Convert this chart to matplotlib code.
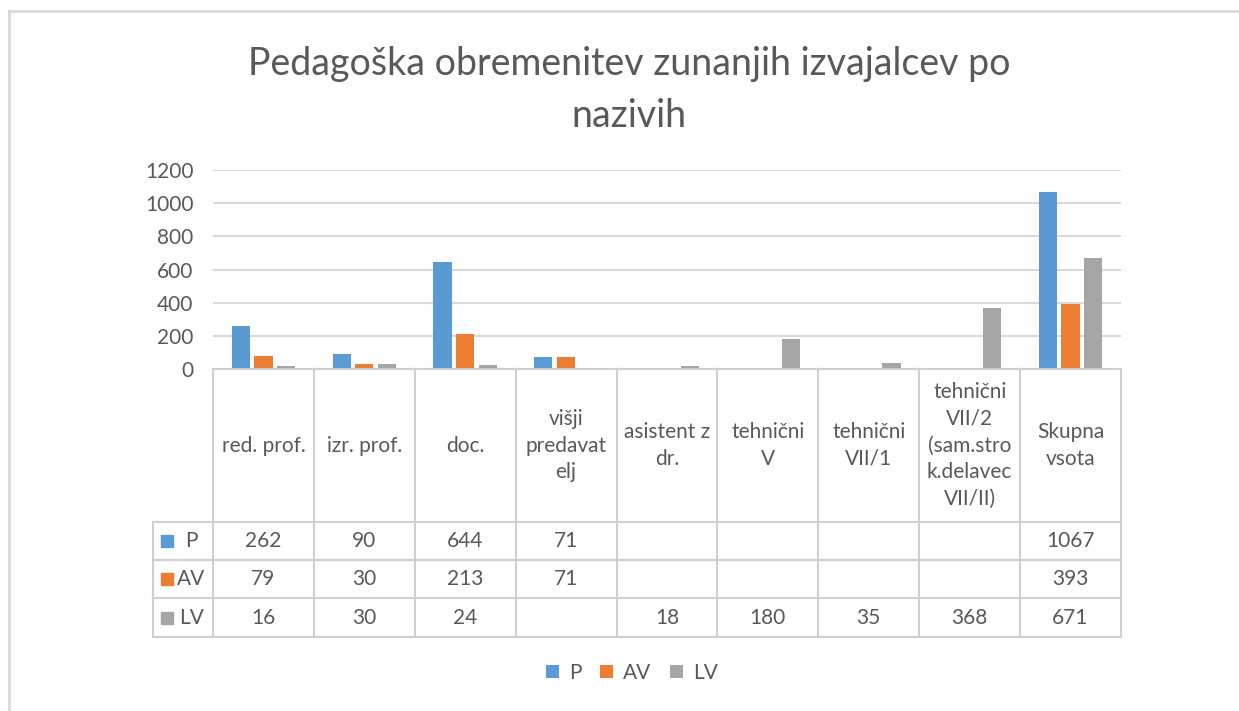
import matplotlib
matplotlib.use("Agg")
import matplotlib.pyplot as plt
from matplotlib.patches import Patch
import numpy as np

plt.rcParams['font.family'] = ['Lato', 'DejaVu Sans']

title = "Pedagoška obremenitev zunanjih izvajalcev po\nnazivih"
categories = ["red. prof.", "izr. prof.", "doc.", "višji\npredavat\nelj", "asistent z\ndr.",
              "tehnični\nV", "tehnični\nVII/1", "tehnični\nVII/2\n(sam.stro\nk.delavec\nVII/II)",
              "Skupna\nvsota"]
series_names = ["P", "AV", "LV"]
P = [262, 90, 644, 71, None, None, None, None, 1067]
AV = [79, 30, 213, 71, None, None, None, None, 393]
LV = [16, 30, 24, None, 18, 180, 35, 368, 671]
yticks = [0, 200, 400, 600, 800, 1000, 1200]

colors = ["#5B9BD5", "#ED7D31", "#A5A5A5"]
text_c = "#595959"
grid_c = "#D9D9D9"
fs = 15

W, H = 1239, 711
fig = plt.figure(figsize=(W / 100, H / 100), dpi=100)

# chart border (top and left visible)
fig.add_artist(plt.Line2D([9 / W, 9 / W], [0, 1 - 11 / H], color=grid_c, lw=2, transform=fig.transFigure))
fig.add_artist(plt.Line2D([9 / W, 1], [1 - 11 / H, 1 - 11 / H], color=grid_c, lw=2, transform=fig.transFigure))

fig.text(629 / W, 1 - 90 / H, title, ha='center', va='center', fontsize=27, color=text_c, linespacing=1.55)

# bar axes
ax = fig.add_axes([213 / W, 1 - 369 / H, 908 / W, 199 / H])
n = len(categories)
x = np.arange(n)
bw = 0.18
step = 0.225
series = [P, AV, LV]
for i, (name, vals) in enumerate(zip(series_names, series)):
    v = [np.nan if a is None else a for a in vals]
    ax.bar(x + (i - 1) * step, v, width=bw, color=colors[i], label=name, zorder=3)
ax.set_xlim(-0.5, n - 0.5)
ax.set_ylim(0, 1200)
ax.set_yticks(yticks)
ax.set_yticklabels([str(t) for t in yticks], fontsize=fs, color=text_c)
ax.tick_params(axis='y', length=0, pad=14)
ax.set_xticks([])
ax.grid(axis='y', color=grid_c, lw=1.5, zorder=0)
for s in ax.spines.values():
    s.set_visible(False)

# data table axes
px_per_cat = 908 / n
xmin = -0.5 - 60 / px_per_cat
tab = fig.add_axes([153 / W, 1 - 637 / H, (1121 - 153) / W, 268 / H])
tab.set_xlim(xmin, n - 0.5)
tab.set_ylim(268, 0)
tab.axis('off')
row_y = [153, 191, 229, 268]
lc = "#D0D0D0"
tab.plot([-0.5, n - 0.5], [0, 0], color=lc, lw=1.5, clip_on=False)
for yy in row_y:
    tab.plot([xmin, n - 0.5], [yy, yy], color=lc, lw=1.5, clip_on=False)
for i in range(n + 1):
    tab.plot([-0.5 + i, -0.5 + i], [0, 268], color=lc, lw=1.5, clip_on=False)
tab.plot([xmin, xmin], [153, 268], color=lc, lw=1.5, clip_on=False)

for i, c in enumerate(categories):
    tab.text(i, 76.5, c, ha='center', va='center', fontsize=fs, color=text_c,
             linespacing=1.42, multialignment='center')
for r, (name, vals) in enumerate(zip(series_names, series)):
    yc = (row_y[r] + row_y[r + 1]) / 2
    tab.plot([xmin + 0.14], [yc], marker='s', markersize=8, color=colors[r], clip_on=False)
    tab.text(xmin + 0.38, yc, name, ha='center', va='center', fontsize=fs, color=text_c)
    for i, v in enumerate(vals):
        if v is not None:
            tab.text(i, yc, str(v), ha='center', va='center', fontsize=fs, color=text_c)

handles = [Patch(facecolor=colors[i], label=series_names[i]) for i in range(3)]
fig.legend(handles=handles, loc='center', bbox_to_anchor=(632 / W, 1 - 673 / H), ncol=3,
           frameon=False, fontsize=fs, handlelength=0.6, handleheight=0.6, handletextpad=0.5,
           columnspacing=0.9, labelcolor=text_c)

fig.savefig("out.png", dpi=100)
